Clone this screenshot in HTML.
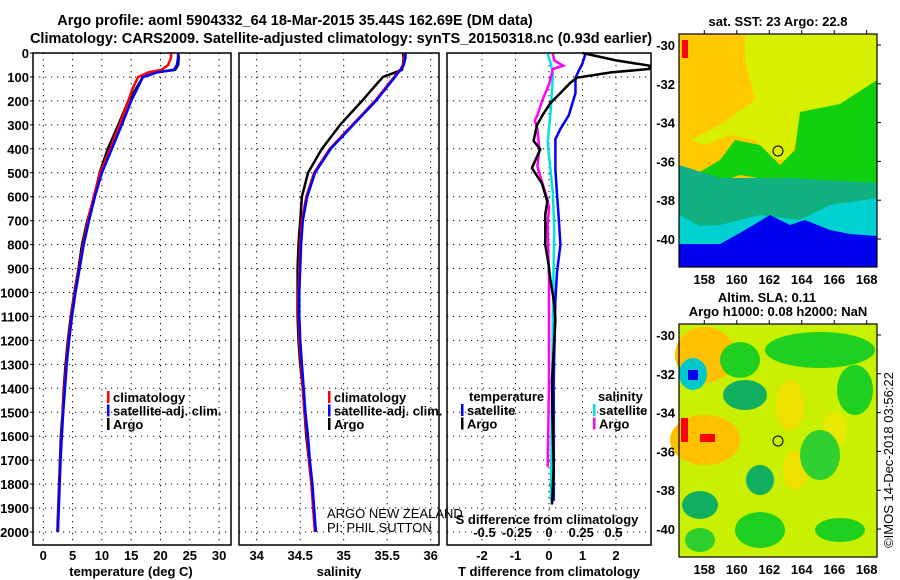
<!DOCTYPE html>
<html><head><meta charset="utf-8"><style>
body{margin:0;background:#fff;}
svg{display:block;font-family:"Liberation Sans",sans-serif;}
.t{font-weight:bold;font-size:13px;}
.h{font-weight:bold;font-size:14.5px;}
</style></head><body>
<svg id="c" width="900" height="580" viewBox="0 0 900 580" xmlns="http://www.w3.org/2000/svg">
<text class="h" x="295" y="25" text-anchor="middle">Argo profile: aoml 5904332_64 18-Mar-2015 35.44S 162.69E (DM data)</text>
<text class="h" x="341" y="43" text-anchor="middle">Climatology: CARS2009. Satellite-adjusted climatology: synTS_20150318.nc (0.93d earlier)</text>
<g id="maps"></g>
<g id="plots"></g>
<text x="327" y="518" font-size="13">ARGO NEW ZEALAND</text>
<text x="327" y="532" font-size="13">PI: PHIL SUTTON</text>
<text x="893" y="460" font-size="13" text-anchor="middle" transform="rotate(-90 893 460)">©IMOS 14-Dec-2018 03:56:22</text>
</svg>
<script>
const depths=[0,20,50,70,80,100,150,200,300,400,500,600,700,800,900,1000,1100,1200,1300,1400,1500,1600,1700,1800,1900,2000];
const tempArgo=[23,23.1,23,22.5,19.5,17,15.8,14.5,12.8,11,9.6,8.7,7.5,6.6,6.0,5.3,4.7,4.2,3.8,3.5,3.3,3.0,2.85,2.7,2.55,2.4];
const tempClim=[21.8,21.8,21.3,20.2,18,16.2,15.2,14.5,13,11.4,9.7,8.6,7.6,6.8,6.1,5.4,4.8,4.3,3.9,3.6,3.35,3.1,2.9,2.75,2.6,2.45];
const tempSat=[23,23,22.8,22.3,19.5,17,16,15,13.4,11.7,10,8.8,7.8,6.9,6.2,5.5,4.9,4.4,4.0,3.7,3.4,3.15,2.95,2.8,2.65,2.5];
const salArgo=[35.68,35.69,35.68,35.67,35.6,35.45,35.33,35.21,34.96,34.75,34.59,34.52,34.5,34.48,34.47,34.47,34.47,34.48,34.5,34.53,34.55,34.57,34.6,34.63,34.65,34.67];
const salClim=[35.7,35.7,35.68,35.65,35.62,35.58,35.47,35.36,35.1,34.84,34.66,34.57,34.52,34.5,34.49,34.48,34.48,34.49,34.51,34.53,34.55,34.58,34.6,34.63,34.65,34.67];
const salSat=[35.71,35.71,35.69,35.66,35.63,35.59,35.48,35.37,35.11,34.85,34.67,34.58,34.53,34.51,34.5,34.49,34.49,34.5,34.52,34.54,34.56,34.59,34.61,34.64,34.66,34.68];
const dTArgoDepth=[0,31,53,67,81,103,124,167,210,252,302,367,402,480,545,620,673,801,887,944,1030,1115,1372,1515,1728,1885];
const dTArgo=[1.0,2.0,3.0,3.0,1.85,0.84,0.64,0.34,0.04,-0.16,-0.36,-0.46,-0.26,-0.51,-0.21,-0.05,-0.11,-0.11,-0.01,0.04,0.14,0.19,0.09,0.1,0.14,0.09];
const dTSatDepth=[3,46,74,103,167,260,317,360,488,588,687,801,915,1030,1372,1870];
const dTSat=[1.09,0.99,0.89,0.79,0.79,0.59,0.34,0.19,0.19,0.24,0.29,0.34,0.24,0.19,0.14,0.14];
const dSArgoDepth=[3,31,53,67,103,131,195,260,281,317,402,473,545,616,645,716,944,1372,1728];
const dSArgo=[0.03,0.04,0.11,0.03,0.015,0,-0.05,-0.09,-0.11,-0.09,-0.075,-0.09,-0.05,-0.01,0,-0.01,0,0,-0.01];
const dSSatDepth=[3,46,88,231,374,588,730,1087,1870];
const dSSat=[-0.01,0.015,0.03,0.015,-0.01,0.03,0.04,0.03,0.015];
const tempTicks=[0,5,10,15,20,25,30];
const salTicks=[34,34.5,35,35.5,36];
const dTTicks=[-2,-1,0,1,2];
const dSTicks=[-0.5,-0.25,0,0.25,0.5];
const depthTicks=[0,100,200,300,400,500,600,700,800,900,1000,1100,1200,1300,1400,1500,1600,1700,1800,1900,2000];
const latTicks=[-30,-32,-34,-36,-38,-40];
const lonTicks=[158,160,162,164,166,168];

const NS="http://www.w3.org/2000/svg";
function mk(tag,attrs,parent){const e=document.createElementNS(NS,tag);for(const k in attrs)e.setAttribute(k,attrs[k]);parent.appendChild(e);return e;}
const plots=document.getElementById('plots');
const maps=document.getElementById('maps');
const TOP=53,BOT=545;
function yD(d){return 53+d*0.2395;}
function xT(t){return 43.3+t*5.86;}
function xS(s){return 256.7+(s-34)*87;}
function xDT(t){return 549+t*33.5;}
function xDS(s){return 549+s*129;}

function frame(x0,x1,name){
  const r=mk('rect',{x:x0,y:TOP,width:x1-x0,height:BOT-TOP,fill:'none',stroke:'#000','stroke-width':1.5},plots);
  
  
}
function grid(x0,x1,xs,name){
  const g=mk('g',{stroke:'#000','stroke-width':1,'stroke-dasharray':'1.2,4.8'},plots);
  
  
  depthTicks.forEach(d=>mk('line',{x1:x0,x2:x1,y1:yD(d),y2:yD(d)},g));
  xs.forEach(x=>mk('line',{x1:x,x2:x,y1:TOP,y2:BOT},g));
}
function line(xs,ds,xf,color,name,x0,x1){
  const pts=xs.map((v,i)=>[Math.max(x0,Math.min(x1,xf(v))),yD(ds[i])]);
  const p=mk('polyline',{points:pts.map(p=>p[0].toFixed(1)+','+p[1].toFixed(1)).join(' '),fill:'none',stroke:color,'stroke-width':2.5},plots);
  
  
}
function label(x,y,txt,anchor,name,cls){
  const t=mk('text',{x:x,y:y,'text-anchor':anchor||'middle',class:cls||'t'},plots);
  t.textContent=txt;
  
  
  return t;
}
function legend(x,y,items,name){
  const g=mk('g',{},plots);
  
  
  items.forEach((it,i)=>{
    mk('rect',{x:x,y:y+i*13.5-11,width:2.5,height:12,fill:it[1]},g);
    const t=mk('text',{x:x+6,y:y+i*13.5,class:'t'},g);t.textContent=it[0];
  });
}

depthTicks.forEach(d=>{
  label(29,yD(d)+5,String(d),'end','depth-tick-label');
  mk('line',{x1:30,x2:33,y1:yD(d),y2:yD(d),stroke:'#000'},plots);
});

grid(33,231,tempTicks.map(xT),'temperature-grid');
line(tempArgo,depths,xT,'#000','temperature-argo-line',33,231);
line(tempClim,depths,xT,'#f00','temperature-climatology-line',33,231);
line(tempSat,depths,xT,'#00f','temperature-satellite-line',33,231);
frame(33,231,'temperature-panel');
tempTicks.forEach(t=>label(xT(t),560,String(t),'middle','temperature-tick-label'));
label(131,576,'temperature (deg C)','middle','temperature-axis-title');
legend(107,402,[['climatology','#f00'],['satellite-adj. clim.','#00f'],['Argo','#000']],'temperature-legend');

grid(239,439,salTicks.map(xS),'salinity-grid');
line(salArgo,depths,xS,'#000','salinity-argo-line',239,439);
line(salClim,depths,xS,'#f00','salinity-climatology-line',239,439);
line(salSat,depths,xS,'#00f','salinity-satellite-line',239,439);
frame(239,439,'salinity-panel');
salTicks.forEach(t=>label(xS(t),560,String(t),'middle','salinity-tick-label'));
label(339,576,'salinity','middle','salinity-axis-title');
legend(328,402,[['climatology','#f00'],['satellite-adj. clim.','#00f'],['Argo','#000']],'salinity-legend');

grid(447,651,dTTicks.map(xDT),'difference-grid');
line(dSSat,dSSatDepth,xDS,'#00e0e0','salinity-diff-satellite-line',447,651);
line(dSArgo,dSArgoDepth,xDS,'#ff00ff','salinity-diff-argo-line',447,651);
line(dTSat,dTSatDepth,xDT,'#00f','temperature-diff-satellite-line',447,651);
line(dTArgo,dTArgoDepth,xDT,'#000','temperature-diff-argo-line',447,651);
frame(447,651,'difference-panel');
dTTicks.forEach(t=>label(xDT(t),560,String(t),'middle','t-diff-tick-label'));
dSTicks.forEach(t=>label(xDS(t),537,String(t),'middle','s-diff-tick-label'));
label(549,576,'T difference from climatology','middle','t-diff-axis-title');
label(547,524,'S difference from climatology','middle','s-diff-axis-title');
label(469,401,'temperature','start','diff-legend-temperature-heading');
legend(461,415,[['satellite','#00f'],['Argo','#000']],'temperature-diff-legend');
label(598,401,'salinity','start','diff-legend-salinity-heading');
legend(593,415,[['satellite','#00e0e0'],['Argo','#ff00ff']],'salinity-diff-legend');

function mapAxes(y0,y1,lat30,lat40,name){
  const g=mk('g',{},maps);
  
  
  const yL=l=>lat30+(-30-l)*(lat40-lat30)/10;
  const xL=l=>704.3+(l-158)*16.24;
  latTicks.forEach(l=>{const t=mk('text',{x:675,y:yL(l)+5,'text-anchor':'end',class:'t'},g);t.textContent=String(l);
    mk('line',{x1:877,x2:881,y1:yL(l),y2:yL(l),stroke:'#000'},g);});
  lonTicks.forEach(l=>{const t=mk('text',{x:xL(l),y:y1+17,'text-anchor':'middle',class:'t'},g);t.textContent=String(l);
    mk('line',{x1:xL(l),x2:xL(l),y1:y0-4,y2:y0,stroke:'#000'},g);});
  mk('rect',{x:679,y:y0,width:198,height:y1-y0,fill:'none',stroke:'#000','stroke-width':1.2},g);
}
function poly(pts,fill,parent){return mk('polygon',{points:pts,fill:fill},parent);}
function ell(cx,cy,rx,ry,fill,parent){return mk('ellipse',{cx:cx,cy:cy,rx:rx,ry:ry,fill:fill},parent);}

const m1=mk('g',{},maps);


mk('rect',{x:679,y:34,width:198,height:233,fill:'#ffc800'},m1);
poly('745,34 877,34 877,110 800,125 790,160 775,160 755,140 730,135 705,145 690,140 720,125 755,100 745,60','#d8f000',m1);
poly('800,112 840,104 877,80 877,185 830,195 770,180 740,175 720,182 700,172 720,160 735,140 760,145 780,165 795,150','#10d010',m1);
poly('679,200 877,183 877,267 679,267','#00d0d0',m1);
poly('679,165 720,178 790,178 877,183 877,198 830,205 800,220 760,215 720,225 700,226 679,215','#10b080',m1);
poly('679,244 720,244 745,230 770,215 790,225 805,220 830,230 850,234 877,236 877,267 679,267','#0000f0',m1);
mk('rect',{x:682,y:40,width:6,height:18,fill:'#f00'},m1);
mk('circle',{cx:778,cy:151,r:5,fill:'none',stroke:'#000','stroke-width':1},m1);
mapAxes(34,267,45,239,'sst-map-axes');
const mt1=mk('text',{x:778,y:26,'text-anchor':'middle',class:'t'},maps);mt1.textContent='sat. SST: 23 Argo: 22.8';



const m2=mk('g',{},maps);


mk('rect',{x:679,y:324,width:198,height:233,fill:'#c8f000'},m2);
ell(705,355,30,28,'#ffc000',m2);ell(705,440,35,25,'#ffc000',m2);
ell(790,405,14,25,'#f0e000',m2);ell(795,470,12,20,'#f0e000',m2);ell(835,430,12,18,'#e8e800',m2);
ell(740,360,20,18,'#20d020',m2);ell(820,350,55,18,'#20d020',m2);ell(855,390,18,25,'#20d020',m2);
ell(745,395,22,15,'#10b060',m2);ell(760,480,14,15,'#10b060',m2);ell(700,505,18,14,'#10b060',m2);
ell(820,455,20,25,'#30d030',m2);ell(760,530,25,18,'#20d020',m2);ell(840,530,25,12,'#20d020',m2);ell(700,540,15,12,'#30d030',m2);
ell(693,374,14,16,'#00c8c8',m2);mk('rect',{x:688,y:370,width:10,height:10,fill:'#0000f0'},m2);
mk('rect',{x:681,y:418,width:7,height:24,fill:'#f00'},m2);mk('rect',{x:700,y:434,width:15,height:8,fill:'#f00'},m2);
mk('circle',{cx:778,cy:441,r:5,fill:'none',stroke:'#000','stroke-width':1},m2);
mapAxes(324,557,335,529,'sla-map-axes');
const mt2=mk('text',{x:767,y:302,'text-anchor':'middle',class:'t'},maps);mt2.textContent='Altim. SLA: 0.11';


const mt3=mk('text',{x:778,y:316,'text-anchor':'middle',class:'t'},maps);mt3.textContent='Argo h1000: 0.08 h2000: NaN';


</script>
</body></html>
